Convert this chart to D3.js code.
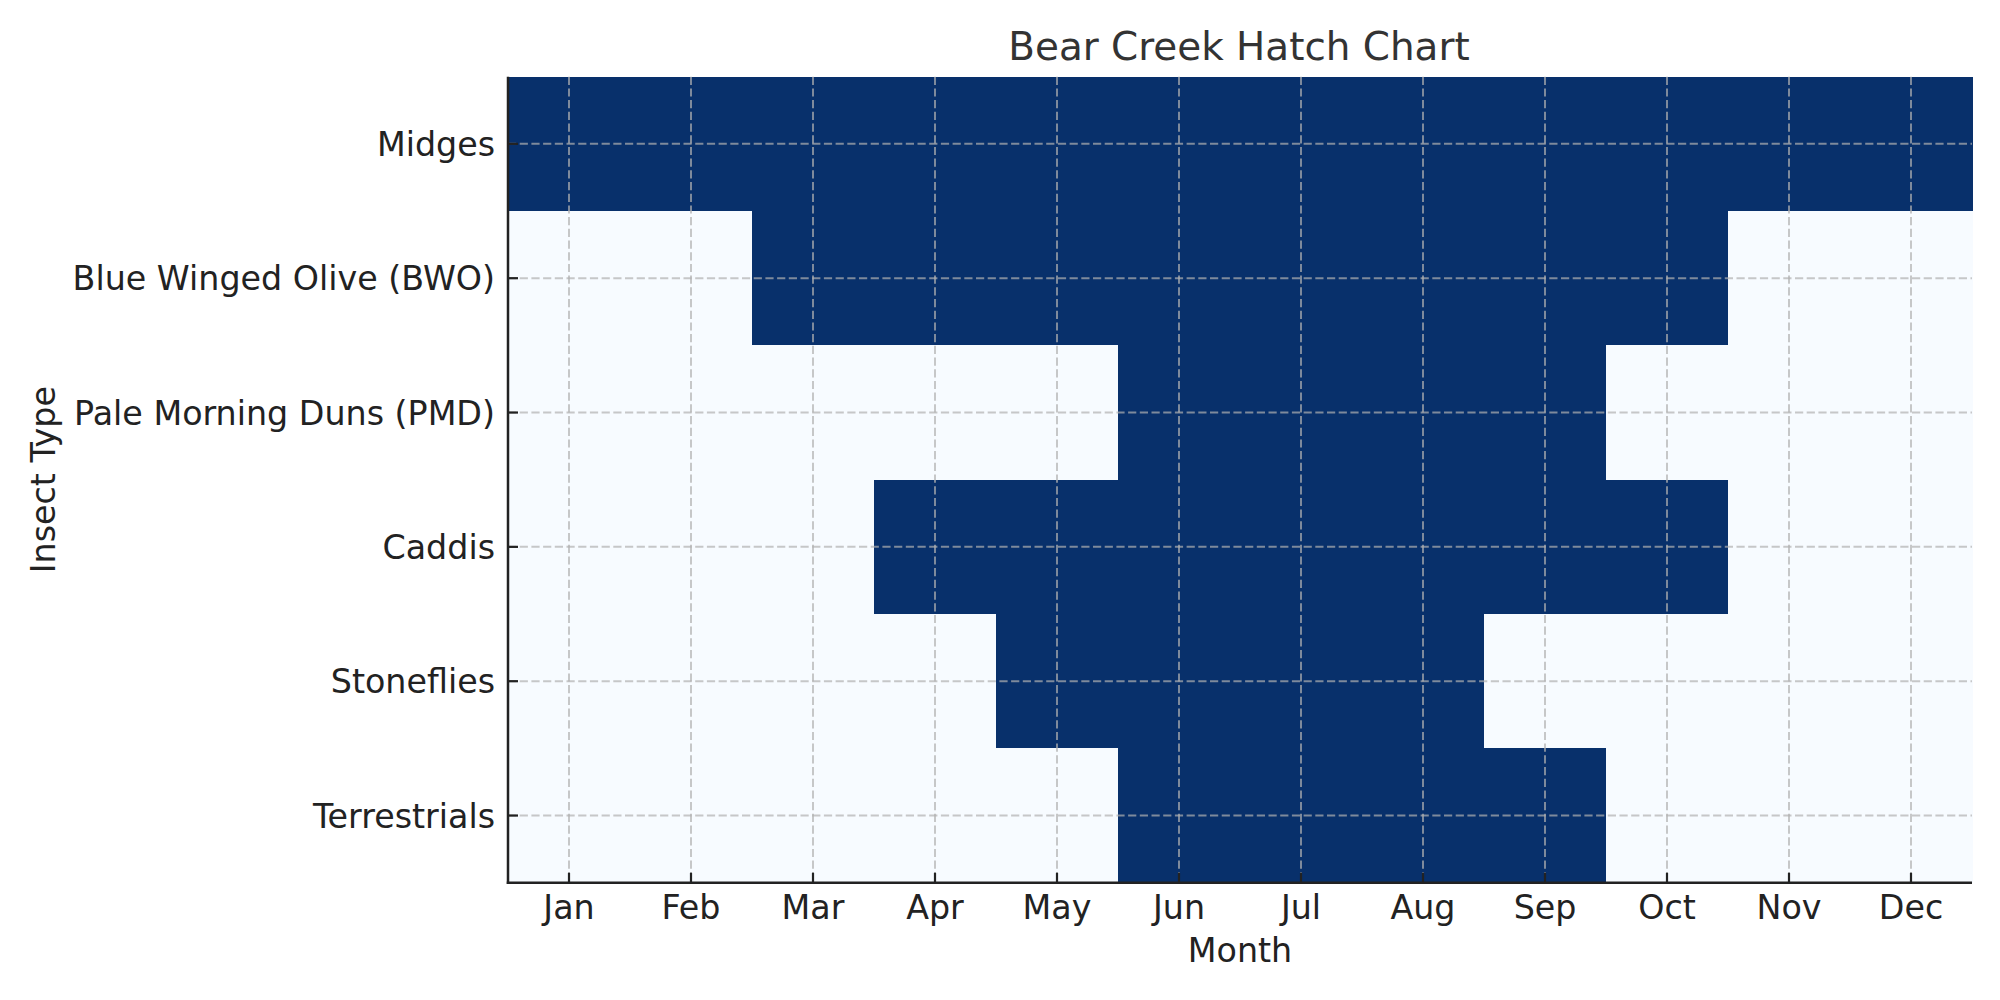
<!DOCTYPE html>
<html>
<head>
<meta charset="utf-8">
<script src="https://cdn.jsdelivr.net/npm/d3@7"></script>
<style>
  html, body { margin: 0; padding: 0; background: #ffffff; }
  svg { display: block; font-family: "DejaVu Sans", sans-serif; }
</style>
</head>
<body>
<svg id="chart" width="2000" height="1000"></svg>
<script>
// ---- data ----
const months = ["Jan","Feb","Mar","Apr","May","Jun","Jul","Aug","Sep","Oct","Nov","Dec"];
const insects = ["Midges","Blue Winged Olive (BWO)","Pale Morning Duns (PMD)","Caddis","Stoneflies","Terrestrials"];
const midges       = [1,1,1,1,1,1,1,1,1,1,1,1];
const bwo          = [0,0,1,1,1,1,1,1,1,1,0,0];
const pmd          = [0,0,0,0,0,1,1,1,1,0,0,0];
const caddis       = [0,0,0,1,1,1,1,1,1,1,0,0];
const stoneflies   = [0,0,0,0,1,1,1,1,0,0,0,0];
const terrestrials = [0,0,0,0,0,1,1,1,1,0,0,0];
const hatchRows = [midges, bwo, pmd, caddis, stoneflies, terrestrials];
const titleText = "Bear Creek Hatch Chart";
const xLabelText = "Month";
const yLabelText = "Insect Type";

// ---- layout ----
const svg = d3.select("#chart");
const pL = 508, pR = 1972, pT = 76.7, pB = 882.7;
const fs = 33.3;

const x = d3.scaleBand().domain(months).range([pL, pR]).padding(0);
const y = d3.scaleBand().domain(insects).range([pT, pB]).padding(0);
const color = d3.scaleOrdinal().domain([0, 1]).range(["#f7fbff", "#08306b"]);

const cells = [];
insects.forEach((ins, i) => {
  months.forEach((m, j) => cells.push({ insect: ins, month: m, v: hatchRows[i][j] }));
});

// cells
svg.append("g").selectAll("rect").data(cells).join("rect")
  .attr("x", d => x(d.month))
  .attr("y", d => y(d.insect))
  .attr("width", x.bandwidth() + 0.5)
  .attr("height", y.bandwidth() + 0.5)
  .attr("fill", d => color(d.v))
  .attr("shape-rendering", "crispEdges");

// grid
const grid = svg.append("g")
  .attr("stroke", "#b0b0b0")
  .attr("stroke-opacity", 0.7)
  .attr("stroke-width", 2)
  .attr("stroke-dasharray", "8.2,3.5");
grid.selectAll("line.vx").data(months).join("line")
  .attr("class", "vx")
  .attr("x1", d => x(d) + x.bandwidth() / 2).attr("x2", d => x(d) + x.bandwidth() / 2)
  .attr("y1", pT).attr("y2", pB);
grid.selectAll("line.hy").data(insects).join("line")
  .attr("class", "hy")
  .attr("y1", d => y(d) + y.bandwidth() / 2).attr("y2", d => y(d) + y.bandwidth() / 2)
  .attr("x1", pL).attr("x2", pR);

// axes
const xAxis = d3.axisBottom(x).tickSizeInner(-10).tickSizeOuter(0).tickPadding(0);
const gx = svg.append("g").attr("transform", `translate(0,${pB})`).call(xAxis);
gx.select(".domain").remove();
gx.selectAll(".tick line").attr("stroke", "#222").attr("stroke-width", 2.2);
gx.selectAll(".tick text")
  .attr("y", 36).attr("dy", null)
  .attr("font-size", fs).attr("fill", "#222")
  .attr("font-family", "DejaVu Sans, sans-serif");

const yAxis = d3.axisLeft(y).tickSizeInner(-10).tickSizeOuter(0).tickPadding(0);
const gy = svg.append("g").attr("transform", `translate(${pL},0)`).call(yAxis);
gy.select(".domain").remove();
gy.selectAll(".tick line").attr("stroke", "#222").attr("stroke-width", 2.2);
gy.selectAll(".tick text")
  .attr("x", -13).attr("dy", "0.36em")
  .attr("font-size", fs).attr("fill", "#222")
  .attr("font-family", "DejaVu Sans, sans-serif");

// spines
svg.append("line").attr("x1", pL).attr("x2", pL).attr("y1", pT).attr("y2", pB + 1.25)
  .attr("stroke", "#222").attr("stroke-width", 2.5);
svg.append("line").attr("x1", pL - 1.25).attr("x2", pR).attr("y1", pB).attr("y2", pB)
  .attr("stroke", "#222").attr("stroke-width", 2.5);

// title & labels
svg.append("text").attr("x", (pL + pR) / 2 - 1).attr("y", 60)
  .attr("text-anchor", "middle").attr("font-size", 38.9).attr("fill", "#333")
  .text(titleText);
svg.append("text").attr("x", (pL + pR) / 2).attr("y", 962)
  .attr("text-anchor", "middle").attr("font-size", fs).attr("fill", "#222")
  .text(xLabelText);
svg.append("text")
  .attr("transform", `translate(55,${(pT + pB) / 2}) rotate(-90)`)
  .attr("text-anchor", "middle").attr("font-size", fs).attr("fill", "#222")
  .text(yLabelText);
</script>
</body>
</html>
